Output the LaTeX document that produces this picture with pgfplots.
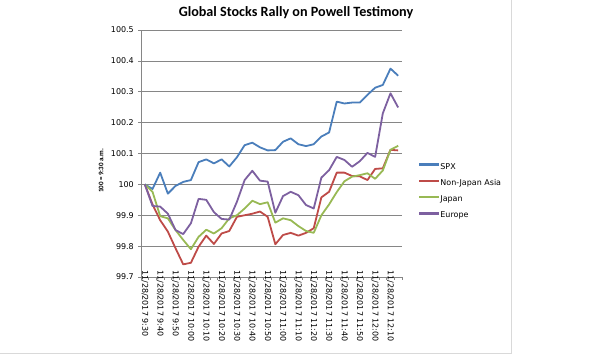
\documentclass[border=0pt]{standalone}
\usepackage{pgfplots}
\pgfplotsset{compat=1.18}
\usepackage{pgfplotstable}
\usepackage{fontspec}
\setmainfont{DejaVu Sans}
\newfontfamily\calib{Carlito}
\definecolor{spx}{HTML}{4A7EBB}
\definecolor{nja}{HTML}{BE4B48}
\definecolor{jpn}{HTML}{98B954}
\definecolor{eur}{HTML}{7D60A0}
\definecolor{gridgray}{HTML}{868686}
\definecolor{bordergray}{HTML}{D9D9D9}
\pgfplotstableread{
i spx nja jpn eur
0 100.000 100.000 100.000 100.000
1 99.985 99.935 99.976 99.930
2 100.038 99.884 99.897 99.928
3 99.970 99.847 99.890 99.905
4 99.995 99.793 99.852 99.852
5 100.008 99.741 99.820 99.839
6 100.014 99.746 99.790 99.874
7 100.072 99.798 99.830 99.953
8 100.081 99.834 99.853 99.950
9 100.068 99.807 99.841 99.910
10 100.081 99.841 99.858 99.888
11 100.058 99.849 99.890 99.886
12 100.088 99.895 99.900 99.944
13 100.127 99.900 99.922 100.014
14 100.135 99.905 99.947 100.044
15 100.120 99.912 99.936 100.012
16 100.110 99.895 99.942 100.009
17 100.111 99.806 99.876 99.908
18 100.138 99.836 99.890 99.962
19 100.149 99.843 99.884 99.976
20 100.130 99.834 99.865 99.965
21 100.124 99.843 99.849 99.933
22 100.130 99.858 99.843 99.922
23 100.155 99.958 99.900 100.022
24 100.168 99.976 99.935 100.046
25 100.268 100.038 99.975 100.089
26 100.262 100.038 100.010 100.079
27 100.265 100.027 100.025 100.057
28 100.265 100.026 100.030 100.075
29 100.290 100.014 100.036 100.102
30 100.313 100.050 100.018 100.089
31 100.322 100.052 100.045 100.230
32 100.375 100.112 100.112 100.295
33 100.352 100.110 100.125 100.249
}\data
\begin{document}
\begin{tikzpicture}
\path[use as bounding box] (0bp,0bp) rectangle (600bp,360bp);
\draw[bordergray, line width=0.8bp] (0bp,7bp) -- (511bp,7bp) -- (511bp,360bp);
\node[font=\calib\bfseries\fontsize{14.2}{17}\selectfont, anchor=base] at (296bp,343.5bp) {Global Stocks Rally on Powell Testimony};
\begin{axis}[
  at={(141bp,83bp)}, anchor=south west,
  scale only axis, width=261bp, height=247bp,
  xmin=-0.5, xmax=33.5, ymin=99.7, ymax=100.5,
  axis x line*=bottom, axis y line*=left,
  axis line style={-, draw=gridgray, line width=0.75bp},
  ytick={99.7,99.8,99.9,100,100.1,100.2,100.3,100.4,100.5},
  ymajorgrids, grid style={draw=gridgray, line width=0.75bp},
  tick align=outside, major tick length=3bp,
  tick style={draw=gridgray, line width=0.75bp},
  xtick={-0.5,0.5,...,33.5}, xticklabels={},
  extra x ticks={0,2,...,32},
  extra x tick labels={11/28/2017 9:30,11/28/2017 9:40,11/28/2017 9:50,11/28/2017 10:00,11/28/2017 10:10,11/28/2017 10:20,11/28/2017 10:30,11/28/2017 10:40,11/28/2017 10:50,11/28/2017 11:00,11/28/2017 11:10,11/28/2017 11:20,11/28/2017 11:30,11/28/2017 11:40,11/28/2017 11:50,11/28/2017 12:00,11/28/2017 12:10},
  extra x tick style={major tick length=0pt, xticklabel style={rotate=-90, anchor=west, inner sep=0pt, xshift=-7bp}},
  /pgf/number format/assume math mode=true,
  ticklabel style={font=\fontsize{8}{9.6}\selectfont, text=black},
  yticklabel style={inner sep=0pt, xshift=-4bp},
  ylabel={100 = 9:30 a.m.},
  every axis y label/.style={at={(rel axis cs:0,0.43)}, xshift=-40bp, rotate=90, anchor=center,
    font=\calib\bfseries\fontsize{7}{8}\selectfont},
  legend cell align=left,
  legend style={at={(rel axis cs:1.061,0.462)}, anchor=north west, draw=none, fill=none,
    font=\fontsize{8}{9.6}\selectfont, inner sep=0pt, row sep=8.3bp,
    nodes={inner sep=0pt, text height=6bp, text depth=2bp}},
  legend image code/.code={\draw[#1, line width=2.3bp] (0bp,2.6bp) -- (20bp,2.6bp);},
  every axis plot/.append style={line width=1.8bp, line join=round, mark=none},
]
\addplot[spx] table[x=i, y=spx] {\data};
\addlegendentry{SPX}
\addplot[nja] table[x=i, y=nja] {\data};
\addlegendentry{Non-Japan Asia}
\addplot[jpn] table[x=i, y=jpn] {\data};
\addlegendentry{Japan}
\addplot[eur] table[x=i, y=eur] {\data};
\addlegendentry{Europe}
\end{axis}
\end{tikzpicture}
\end{document}
